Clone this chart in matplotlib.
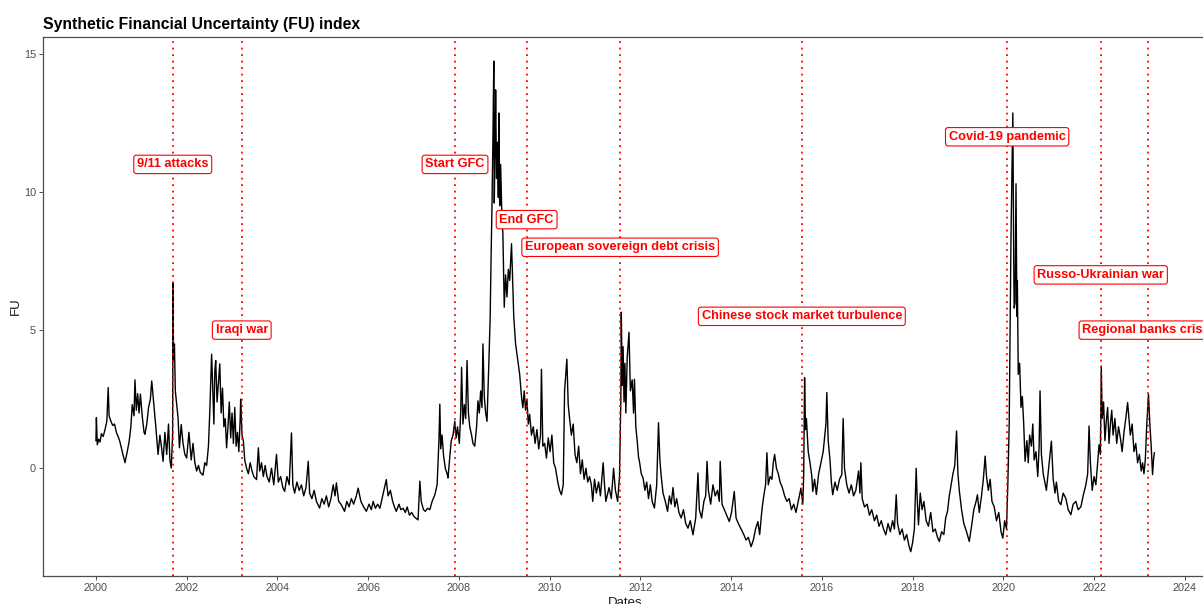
import datetime as dt
import matplotlib
matplotlib.use("Agg")
import matplotlib.pyplot as plt
import numpy as np

plt.rcParams["font.family"] = ["Liberation Sans", "DejaVu Sans"]

# FU index: (decimal year, value)
years = [
    2000.00, 2000.01, 2000.03, 2000.06, 2000.09, 2000.12, 2000.16, 2000.20, 2000.24, 2000.27,
    2000.29, 2000.33, 2000.37, 2000.41, 2000.45, 2000.50, 2000.53, 2000.58, 2000.64, 2000.69,
    2000.73, 2000.77, 2000.80, 2000.84, 2000.86, 2000.89, 2000.92, 2000.95, 2000.98, 2001.02,
    2001.06, 2001.08, 2001.12, 2001.16, 2001.20, 2001.23, 2001.26, 2001.29, 2001.32, 2001.37,
    2001.41, 2001.45, 2001.48, 2001.52, 2001.56, 2001.60, 2001.63, 2001.66, 2001.69, 2001.70,
    2001.71, 2001.73, 2001.75, 2001.78, 2001.81, 2001.84, 2001.88, 2001.92, 2001.96, 2002.00,
    2002.05, 2002.10, 2002.14, 2002.18, 2002.22, 2002.26, 2002.30, 2002.36, 2002.40, 2002.44,
    2002.48, 2002.51, 2002.55, 2002.58, 2002.60, 2002.62, 2002.64, 2002.67, 2002.70, 2002.73,
    2002.76, 2002.79, 2002.82, 2002.85, 2002.88, 2002.91, 2002.94, 2002.97, 2003.00, 2003.03,
    2003.06, 2003.09, 2003.12, 2003.15, 2003.18, 2003.19, 2003.22, 2003.25, 2003.28, 2003.32,
    2003.36, 2003.40, 2003.44, 2003.48, 2003.54, 2003.58, 2003.61, 2003.65, 2003.69, 2003.73,
    2003.77, 2003.82, 2003.87, 2003.92, 2003.98, 2004.02, 2004.07, 2004.12, 2004.16, 2004.21,
    2004.26, 2004.31, 2004.34, 2004.38, 2004.43, 2004.48, 2004.53, 2004.58, 2004.63, 2004.68,
    2004.71, 2004.76, 2004.81, 2004.86, 2004.93, 2004.98, 2005.03, 2005.08, 2005.13, 2005.18,
    2005.23, 2005.27, 2005.30, 2005.35, 2005.40, 2005.48, 2005.53, 2005.58, 2005.63, 2005.68,
    2005.74, 2005.78, 2005.84, 2005.90, 2005.96, 2006.02, 2006.07, 2006.11, 2006.16, 2006.21,
    2006.26, 2006.32, 2006.36, 2006.40, 2006.44, 2006.49, 2006.54, 2006.58, 2006.62, 2006.68,
    2006.72, 2006.77, 2006.82, 2006.86, 2006.91, 2006.96, 2007.01, 2007.10, 2007.14, 2007.17,
    2007.22, 2007.26, 2007.31, 2007.36, 2007.41, 2007.47, 2007.52, 2007.56, 2007.58, 2007.60,
    2007.63, 2007.66, 2007.70, 2007.74, 2007.76, 2007.80, 2007.83, 2007.87, 2007.91, 2007.94,
    2007.97, 2008.01, 2008.04, 2008.06, 2008.09, 2008.12, 2008.15, 2008.18, 2008.21, 2008.24,
    2008.28, 2008.31, 2008.35, 2008.39, 2008.42, 2008.45, 2008.48, 2008.51, 2008.53, 2008.56,
    2008.59, 2008.62, 2008.66, 2008.69, 2008.71, 2008.73, 2008.75, 2008.77, 2008.78, 2008.80,
    2008.81, 2008.83, 2008.85, 2008.87, 2008.88, 2008.90, 2008.92, 2008.95, 2008.97, 2009.00,
    2009.03, 2009.06, 2009.09, 2009.12, 2009.16, 2009.19, 2009.21, 2009.25, 2009.29, 2009.34,
    2009.38, 2009.41, 2009.44, 2009.47, 2009.50, 2009.53, 2009.56, 2009.60, 2009.64, 2009.68,
    2009.72, 2009.76, 2009.80, 2009.82, 2009.85, 2009.89, 2009.93, 2009.97, 2010.01, 2010.05,
    2010.09, 2010.13, 2010.18, 2010.22, 2010.26, 2010.30, 2010.33, 2010.38, 2010.41, 2010.44,
    2010.48, 2010.52, 2010.56, 2010.60, 2010.64, 2010.68, 2010.72, 2010.76, 2010.80, 2010.84,
    2010.88, 2010.92, 2010.95, 2010.99, 2011.03, 2011.08, 2011.12, 2011.18, 2011.21, 2011.24,
    2011.31, 2011.36, 2011.41, 2011.45, 2011.50, 2011.54, 2011.57, 2011.58, 2011.60, 2011.62,
    2011.64, 2011.66, 2011.68, 2011.71, 2011.75, 2011.78, 2011.82, 2011.85, 2011.87, 2011.90,
    2011.93, 2011.96, 2011.98, 2012.02, 2012.06, 2012.10, 2012.14, 2012.18, 2012.22, 2012.26,
    2012.31, 2012.36, 2012.40, 2012.43, 2012.46, 2012.50, 2012.55, 2012.60, 2012.64, 2012.68,
    2012.72, 2012.76, 2012.80, 2012.85, 2012.90, 2012.95, 2013.00, 2013.05, 2013.10, 2013.16,
    2013.22, 2013.27, 2013.30, 2013.35, 2013.40, 2013.44, 2013.47, 2013.50, 2013.55, 2013.60,
    2013.65, 2013.70, 2013.74, 2013.76, 2013.80, 2013.85, 2013.90, 2013.96, 2014.01, 2014.07,
    2014.11, 2014.16, 2014.22, 2014.28, 2014.33, 2014.38, 2014.44, 2014.49, 2014.54, 2014.59,
    2014.63, 2014.68, 2014.72, 2014.76, 2014.79, 2014.82, 2014.86, 2014.90, 2014.93, 2014.96,
    2015.00, 2015.04, 2015.08, 2015.13, 2015.18, 2015.23, 2015.28, 2015.33, 2015.38, 2015.43,
    2015.48, 2015.54, 2015.58, 2015.60, 2015.62, 2015.64, 2015.66, 2015.70, 2015.74, 2015.78,
    2015.80, 2015.84, 2015.88, 2015.93, 2015.98, 2016.03, 2016.06, 2016.09, 2016.11, 2016.14,
    2016.18, 2016.21, 2016.24, 2016.29, 2016.34, 2016.39, 2016.44, 2016.47, 2016.50, 2016.55,
    2016.60, 2016.65, 2016.70, 2016.75, 2016.81, 2016.84, 2016.86, 2016.89, 2016.94, 2017.00,
    2017.05, 2017.10, 2017.16, 2017.21, 2017.26, 2017.31, 2017.36, 2017.41, 2017.46, 2017.51,
    2017.56, 2017.60, 2017.64, 2017.67, 2017.72, 2017.77, 2017.82, 2017.87, 2017.92, 2017.96,
    2018.00, 2018.04, 2018.08, 2018.10, 2018.13, 2018.17, 2018.21, 2018.25, 2018.30, 2018.35,
    2018.40, 2018.45, 2018.50, 2018.55, 2018.59, 2018.64, 2018.69, 2018.73, 2018.77, 2018.81,
    2018.85, 2018.89, 2018.93, 2018.97, 2019.00, 2019.03, 2019.08, 2019.13, 2019.19, 2019.25,
    2019.30, 2019.35, 2019.40, 2019.43, 2019.47, 2019.52, 2019.56, 2019.60, 2019.63, 2019.67,
    2019.71, 2019.75, 2019.80, 2019.85, 2019.90, 2019.95, 2019.99, 2020.03, 2020.07, 2020.10,
    2020.13, 2020.15, 2020.17, 2020.19, 2020.21, 2020.23, 2020.24, 2020.26, 2020.28, 2020.30,
    2020.31, 2020.33, 2020.36, 2020.39, 2020.42, 2020.45, 2020.48, 2020.52, 2020.55, 2020.58,
    2020.62, 2020.65, 2020.68, 2020.72, 2020.76, 2020.79, 2020.81, 2020.84, 2020.88, 2020.95,
    2021.00, 2021.06, 2021.10, 2021.14, 2021.17, 2021.22, 2021.27, 2021.32, 2021.38, 2021.43,
    2021.49, 2021.54, 2021.60, 2021.65, 2021.71, 2021.76, 2021.82, 2021.86, 2021.89, 2021.92,
    2021.96, 2022.00, 2022.04, 2022.08, 2022.11, 2022.14, 2022.16, 2022.18, 2022.21, 2022.24,
    2022.27, 2022.30, 2022.33, 2022.36, 2022.39, 2022.42, 2022.46, 2022.50, 2022.54, 2022.58,
    2022.62, 2022.66, 2022.70, 2022.74, 2022.77, 2022.80, 2022.84, 2022.88, 2022.92, 2022.96,
    2023.00, 2023.04, 2023.07, 2023.10, 2023.13, 2023.16, 2023.20, 2023.23, 2023.26, 2023.29,
    2023.31, 2023.33,
]

fu = [
    1.00, 1.83, 0.85, 1.05, 0.95, 1.25, 1.15, 1.40, 1.70, 2.92,
    1.90, 1.70, 1.55, 1.60, 1.30, 1.10, 0.95, 0.60, 0.20, 0.60,
    0.95, 1.50, 2.30, 1.90, 3.20, 2.10, 2.70, 2.00, 2.68, 1.90,
    1.30, 1.23, 1.60, 2.20, 2.50, 3.16, 2.60, 2.00, 1.50, 0.50,
    1.20, 0.70, 0.25, 1.30, 0.50, 1.60, 0.30, 0.01, 1.20, 6.74,
    3.90, 4.50, 2.80, 2.30, 1.83, 0.74, 1.58, 0.90, 0.50, 0.37,
    1.30, 0.30, 0.90, 0.20, -0.10, 0.10, -0.15, -0.25, 0.20, 0.10,
    0.80, 2.07, 4.13, 2.60, 1.60, 3.50, 3.90, 2.40, 3.10, 3.78,
    2.00, 2.90, 1.50, 1.80, 0.74, 1.50, 2.40, 1.10, 2.00, 0.90,
    2.20, 0.80, 1.30, 0.60, 1.80, 2.50, 1.20, 0.98, 0.30, 0.00,
    -0.20, 0.20, -0.10, -0.30, -0.41, 0.74, -0.10, 0.20, -0.30, 0.10,
    -0.30, -0.50, 0.00, -0.60, 0.50, -0.50, -0.30, -0.70, -0.84, -0.30,
    -0.60, 1.28, -0.60, -0.90, -0.50, -0.80, -0.60, -1.00, -0.70, 0.25,
    -0.90, -1.10, -0.80, -1.20, -1.44, -1.10, -1.30, -1.00, -1.40, -1.10,
    -0.60, -1.00, -0.53, -1.20, -1.30, -1.56, -1.20, -1.40, -1.10, -1.30,
    -1.00, -0.72, -1.20, -1.40, -1.56, -1.30, -1.50, -1.20, -1.45, -1.30,
    -1.45, -1.00, -0.70, -0.41, -1.00, -0.80, -1.20, -1.40, -1.56, -1.30,
    -1.50, -1.45, -1.60, -1.40, -1.70, -1.60, -1.75, -1.87, -0.47, -1.20,
    -1.50, -1.56, -1.45, -1.50, -1.20, -0.96, -0.60, 0.98, 2.32, 0.70,
    1.20, 0.50, 0.00, -0.20, -0.35, 0.40, 0.98, 1.20, 1.70, 1.10,
    1.50, 0.90, 2.00, 3.65, 1.60, 2.30, 1.80, 3.90, 2.00, 1.50,
    1.20, 0.90, 0.80, 1.50, 2.44, 2.00, 2.80, 2.20, 4.50, 2.60,
    2.00, 1.70, 3.77, 5.50, 7.65, 9.50, 11.90, 14.74, 9.60, 12.00,
    13.70, 10.50, 11.80, 9.80, 12.86, 9.50, 11.00, 9.00, 8.50, 5.83,
    7.00, 6.20, 7.20, 6.80, 8.13, 6.50, 5.47, 4.50, 4.00, 3.40,
    2.60, 2.19, 2.80, 2.10, 2.50, 1.60, 1.95, 1.20, 1.50, 0.90,
    1.40, 0.70, 1.20, 3.58, 0.80, 0.90, 0.37, 1.10, 0.60, 1.20,
    0.20, 0.00, -0.50, -0.80, -0.96, -0.60, 2.80, 3.95, 2.30, 1.80,
    1.20, 1.60, 0.50, 0.20, 0.80, -0.20, 0.30, -0.40, 0.00, -0.50,
    -0.30, -0.60, -1.20, -0.40, -0.90, -0.50, -1.00, 0.20, -0.60, -1.20,
    -0.70, -1.10, 0.00, -0.80, -1.20, -0.30, 2.50, 5.65, 3.00, 4.40,
    2.40, 3.80, 2.00, 4.00, 4.92, 2.80, 3.20, 2.00, 3.22, 1.50,
    1.00, 0.40, 0.25, -0.20, -0.35, -0.80, -0.50, -1.10, -0.60, -1.20,
    -1.44, -0.60, 1.65, 0.30, -0.30, -0.90, -1.20, -1.56, -1.00, -1.30,
    -0.70, -1.40, -1.10, -1.60, -1.80, -1.50, -2.00, -2.17, -1.90, -2.41,
    -1.80, -0.17, -1.50, -1.80, -1.20, -1.00, 0.25, -0.80, -1.30, -0.60,
    -1.00, -0.80, -1.20, 0.25, -1.30, -1.50, -1.70, -1.93, -1.60, -0.84,
    -1.80, -2.00, -2.20, -2.40, -2.60, -2.50, -2.84, -2.60, -2.20, -1.93,
    -2.40, -1.50, -1.00, -0.60, 0.56, -0.60, -0.30, -0.40, 0.20, 0.50,
    0.00, -0.20, -0.50, -0.70, -1.00, -1.20, -1.10, -1.50, -1.30, -1.60,
    -1.20, -0.72, -1.30, -0.30, 3.28, 1.40, 1.80, 0.60, 0.20, -0.30,
    -0.84, -0.40, -0.95, -0.20, 0.20, 0.60, 1.10, 1.60, 2.74, 1.00,
    0.30, -0.50, -0.96, -0.50, -0.80, -0.40, -0.23, 1.80, 0.00, -0.60,
    -0.90, -0.60, -1.00, -0.80, -0.10, -0.90, 0.20, -1.10, -1.40, -1.30,
    -1.70, -1.50, -1.90, -1.70, -2.10, -1.90, -2.20, -2.41, -2.00, -2.30,
    -1.90, -2.20, -0.96, -2.00, -2.40, -2.20, -2.60, -2.40, -2.80, -3.02,
    -2.70, -2.20, 0.00, -1.00, -2.05, -0.90, -1.50, -1.20, -1.90, -2.10,
    -1.60, -2.30, -2.20, -2.50, -2.65, -2.30, -2.40, -1.80, -1.56, -1.00,
    -0.60, -0.20, 0.10, 1.35, -0.20, -0.80, -1.50, -2.00, -2.30, -2.65,
    -2.10, -1.50, -1.20, -0.96, -1.60, -1.00, -0.40, 0.44, -0.30, -0.80,
    -0.40, -1.20, -1.40, -1.90, -1.60, -2.30, -2.53, -1.90, -2.20, -0.59,
    1.60, 5.20, 8.40, 10.68, 12.86, 7.50, 5.80, 6.00, 10.30, 5.50,
    6.80, 3.40, 3.80, 2.20, 2.60, 1.60, 0.25, 1.00, 0.20, 1.20,
    0.80, 1.60, 0.30, 0.60, -0.30, 0.80, 2.80, 0.50, -0.20, -0.80,
    0.00, 0.98, -0.40, -0.90, -0.50, -1.20, -1.32, -0.90, -1.10, -1.50,
    -1.68, -1.30, -1.20, -1.50, -1.40, -1.00, -0.60, -0.20, 1.53, 0.20,
    -0.80, -0.30, -0.60, 0.20, 0.85, 0.50, 3.70, 1.80, 2.40, 1.00,
    1.70, 2.20, 0.90, 1.60, 2.10, 1.20, 1.80, 0.90, 1.50, 1.10,
    0.60, 1.30, 1.80, 2.38, 1.80, 1.20, 1.60, 0.60, 0.90, 0.20,
    0.50, -0.10, 0.20, -0.20, 0.30, 1.50, 2.68, 1.60, 0.80, -0.23,
    0.30, 0.56,
]

# Crisis events marked with vertical lines
event_names = [
    "9/11 attacks", "Iraqi war", "Start GFC", "End GFC",
    "European sovereign debt crisis", "Chinese stock market turbulence",
    "Covid-19 pandemic", "Russo-Ukrainian war", "Regional banks crisis",
]
event_dates = [
    "2001-09-11", "2003-03-20", "2007-12-01", "2009-06-30",
    "2011-07-22", "2015-07-24", "2020-02-01", "2022-02-24", "2023-03-10",
]
label_heights = [11, 5, 11, 9, 8, 5.5, 12, 7, 5]

x_ticks = [2000, 2002, 2004, 2006, 2008, 2010, 2012, 2014, 2016, 2018, 2020, 2022, 2024]
y_ticks = [0, 5, 10, 15]


def to_decimal_year(s):
    d = dt.date.fromisoformat(s)
    start = dt.date(d.year, 1, 1)
    length = (dt.date(d.year + 1, 1, 1) - start).days
    return d.year + (d - start).days / length


fig = plt.figure(figsize=(12.03, 6.04), dpi=100)
ax = fig.add_axes([0.0357, 0.0464, 0.968, 0.8918])

ax.plot(years, fu, color="black", lw=1.0, zorder=2)

for name, date, h in zip(event_names, event_dates, label_heights):
    xe = to_decimal_year(date)
    ax.axvline(xe, color="red", lw=1.3, linestyle=(0, (1, 2.6)), zorder=3)
    ax.text(xe, h, name, color="red", fontsize=9.2, fontweight="bold",
            ha="center", va="center", zorder=4,
            bbox=dict(boxstyle="round,pad=0.25,rounding_size=0.2",
                      fc="white", ec="red", lw=0.8))

ax.set_xlim(1998.832, 2024.5)
ax.set_ylim(-3.9, 15.6)
ax.set_xticks(x_ticks)
ax.set_xticklabels([str(t) for t in x_ticks])
ax.set_yticks(y_ticks)

for sp in ax.spines.values():
    sp.set_color("#4d4d4d")
    sp.set_linewidth(0.9)
ax.tick_params(axis="both", colors="#4d4d4d", labelsize=7.8, length=3, width=0.7,
               labelcolor="#4d4d4d", pad=2)

ax.set_xlabel("Dates", fontsize=9.5, color="#1a1a1a", labelpad=3)
ax.set_ylabel("FU", fontsize=9.5, color="#1a1a1a", labelpad=1)
ax.set_title("Synthetic Financial Uncertainty (FU) index", loc="left",
             fontsize=11.3, fontweight="bold", pad=6, x=0.0)

fig.savefig("out.png", dpi=100)
